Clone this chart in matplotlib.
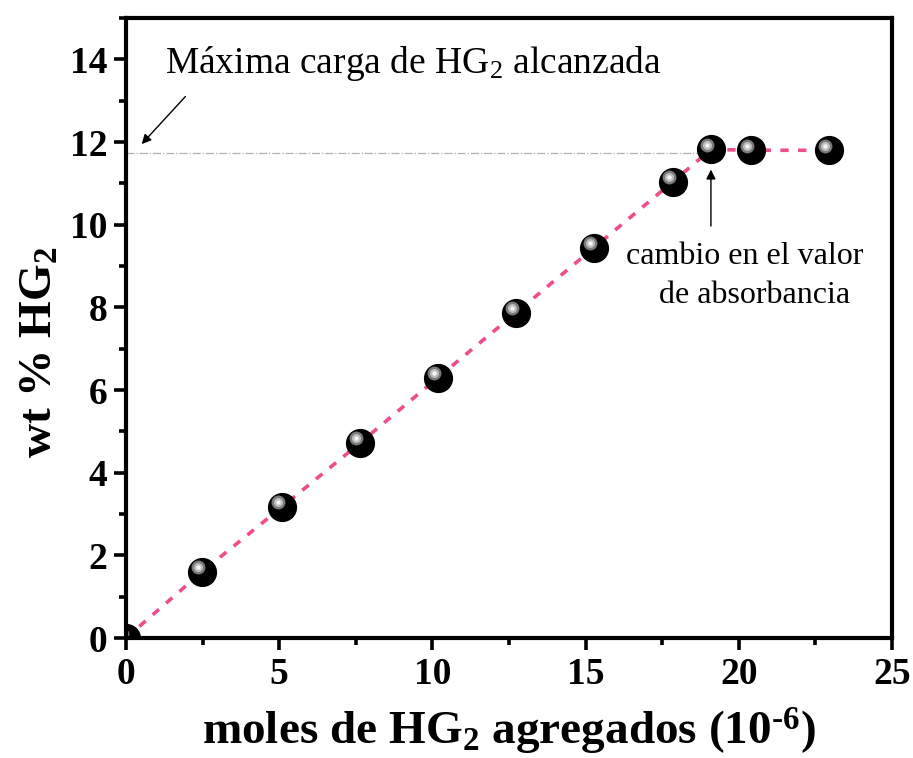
import matplotlib
matplotlib.use("Agg")
import matplotlib.pyplot as plt
from matplotlib.ticker import MultipleLocator
from matplotlib.transforms import offset_copy

plt.rcParams['font.family'] = ['Liberation Serif', 'DejaVu Serif']
plt.rcParams['mathtext.fontset'] = 'custom'
plt.rcParams['mathtext.rm'] = 'Liberation Serif'
plt.rcParams['mathtext.it'] = 'Liberation Serif:italic'
plt.rcParams['mathtext.bf'] = 'Liberation Serif:bold'

moles = [0.0, 2.48, 5.09, 7.64, 10.18, 12.73, 15.27, 17.85, 19.09, 20.4, 22.94]
wt = [0.0, 1.6, 3.17, 4.72, 6.3, 7.87, 9.44, 11.04, 11.82, 11.8, 11.8]
max_load = 11.74

fig = plt.figure(figsize=(9.13, 7.58), dpi=100)
ax = fig.add_axes([126/913, 1-638/758, (892-126)/913, (638-18)/758])

ax.plot(moles, wt, ls=(0, (2.3, 2.6)), color='#ee4d8b', lw=2.6, zorder=2)
ax.plot([0, 18.8], [max_load, max_load], color='#b0b0b0', lw=0.9, ls='-.', zorder=1)

# sphere-like markers
ax.plot(moles, wt, 'o', ms=20, color='black', mec='black', zorder=3)
hl = offset_copy(ax.transData, fig=fig, x=-4, y=4.5, units='dots')
ax.plot(moles, wt, 'o', ms=10, color='#7a7a7a', mew=0, transform=hl, zorder=4)
ax.plot(moles, wt, 'o', ms=6.5, color='#bdbdbd', mew=0, transform=hl, zorder=5)
ax.plot(moles, wt, 'o', ms=3.2, color='#f4f4f4', mew=0, transform=hl, zorder=6)

ax.set_xlim(0, 25)
ax.set_ylim(0, 15)
ax.xaxis.set_major_locator(MultipleLocator(5))
ax.xaxis.set_minor_locator(MultipleLocator(2.5))
ax.yaxis.set_major_locator(MultipleLocator(2))
ax.yaxis.set_minor_locator(MultipleLocator(1))

for s in ax.spines.values():
    s.set_linewidth(3)
    s.set_zorder(10)
ax.tick_params(which='major', direction='out', length=8.5, width=2.6, labelsize=27, pad=5)
ax.tick_params(which='minor', direction='out', length=5, width=2.6)
for lab in ax.get_xticklabels() + ax.get_yticklabels():
    lab.set_fontweight('bold')

ax.set_xlabel('moles de HG$_\\mathbf{2}$ agregados (10$^\\mathbf{\u2010 6}$)', fontsize=34, fontweight='bold', labelpad=10)
ax.set_ylabel(r'wt % HG$_\mathbf{2}$', fontsize=34, fontweight='bold')
ax.yaxis.set_label_coords(-0.084, 0.461)

ax.text(1.27, 13.67, r'Máxima carga de HG$_\mathrm{2}$ alcanzada', fontsize=27, ha='left', va='baseline')
ax.annotate('', xy=(0.45, 11.9), xytext=(2.0, 13.15),
            arrowprops=dict(arrowstyle='-|>', color='black', lw=1, mutation_scale=14))
ax.annotate('', xy=(19.09, 11.4), xytext=(19.09, 9.9),
            arrowprops=dict(arrowstyle='-|>', color='black', lw=1, mutation_scale=14))
ax.text(20.2, 9.05, 'cambio en el valor', fontsize=23, ha='center', va='baseline')
ax.text(20.5, 8.1, 'de absorbancia', fontsize=23, ha='center', va='baseline')

fig.savefig('out.png', dpi=100)
